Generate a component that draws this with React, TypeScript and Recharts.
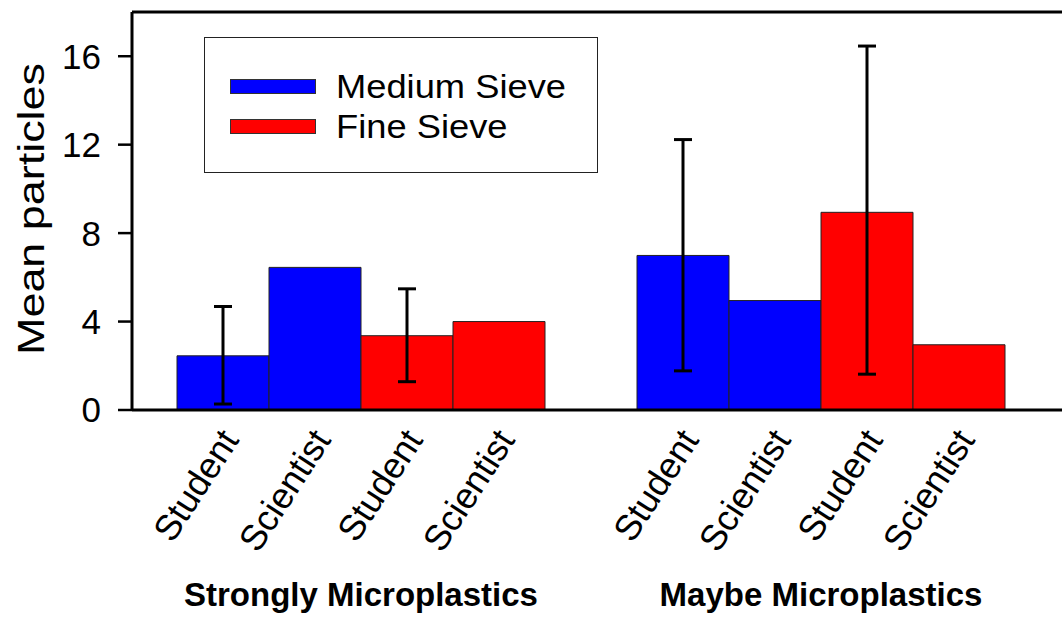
import React from 'react';
import { BarChart, Bar, XAxis, YAxis, ErrorBar, Legend, ReferenceLine } from 'recharts';

// slots along the x axis, one empty slot between the two groups
const tickLabels = ['Student', 'Scientist', 'Student', 'Scientist', '', 'Student', 'Scientist', 'Student', 'Scientist'];
const mediumSieve = [2.45, 6.45, null, null, null, 6.99, 4.95, null, null];
const fineSieve = [null, null, 3.36, 4.0, null, null, null, 8.94, 2.95];
// [minus, plus]
const mediumErr = [[2.18, 2.23], null, null, null, null, [5.22, 5.24], null, null, null];
const fineErr = [null, null, [2.08, 2.12], null, null, null, null, [7.32, 7.52], null];
const groupNames = ['Strongly Microplastics', 'Maybe Microplastics'];
// group centres in slot-index units (between the 2nd and 3rd slot of each group)
const groupCenters = [1.5, 6.5];
const yTicks = [0, 4, 8, 12, 16];

const series = [
  { key: 'medium', name: 'Medium Sieve', color: '#0000FF' },
  { key: 'fine', name: 'Fine Sieve', color: '#FF0000' },
];

const data = tickLabels.map((label, i) => ({
  slot: `s${i}`,
  label,
  medium: mediumSieve[i],
  fine: fineSieve[i],
  mediumErr: mediumErr[i],
  fineErr: fineErr[i],
}));

const FONT = '"Liberation Sans", Arial, sans-serif';

const SlotTick = (props: any) => {
  const { x, y, payload } = props;
  const label = tickLabels[payload.index];
  if (!label) return null;
  return (
    <text
      transform={`translate(${x + 17},${y + 22}) rotate(-57)`}
      textAnchor="end"
      fontSize={36}
      fontFamily={FONT}
      fill="#000"
    >
      {label}
    </text>
  );
};

const GroupTick = (props: any) => {
  const { x, y, payload } = props;
  const idx = groupCenters.indexOf(payload.value);
  if (idx < 0) return null;
  return (
    <text x={x} y={y} dy={28} textAnchor="middle" fontSize={33} fontWeight="bold" fontFamily={FONT} fill="#000">
      {groupNames[idx]}
    </text>
  );
};

const YLabel = (props: any) => {
  const { viewBox } = props;
  const cy = viewBox.y + viewBox.height / 2;
  const bx = 44;
  return (
    <text
      transform={`translate(${bx},${cy - 2}) rotate(-90)`}
      textAnchor="middle"
      fontSize={37}
      fontFamily={FONT}
      fill="#000"
      textLength={292}
      lengthAdjust="spacingAndGlyphs"
    >
      Mean particles
    </text>
  );
};

const LegendBox = () => (
  <div
    style={{
      position: 'relative',
      width: 394,
      height: 136,
      border: '1.5px solid #222',
      boxSizing: 'border-box',
      background: '#fff',
      fontFamily: FONT,
    }}
  >
    {series.map((s, i) => (
      <div
        key={s.key}
        style={{
          position: 'absolute',
          left: 25,
          top: 28 + i * 40,
          height: 40,
          display: 'flex',
          alignItems: 'center',
        }}
      >
        <div style={{ width: 86, height: 15, background: s.color, border: '1px solid #333', boxSizing: 'border-box' }} />
        <span
          style={{
            marginLeft: 20,
            fontSize: 33,
            lineHeight: 1,
            color: '#000',
            whiteSpace: 'nowrap',
            display: 'inline-block',
            transform: 'scaleX(1.1)',
            transformOrigin: 'left center',
          }}
        >
          {s.name}
        </span>
      </div>
    ))}
  </div>
);

export default function App() {
  return (
    <div style={{ position: 'absolute', left: 0, top: 0, width: 1062, height: 617, background: '#fff' }}>
      <style>{'body{margin:0}'}</style>
      <BarChart
        width={1062}
        height={617}
        data={data}
        margin={{ top: 12, right: 0, left: 0, bottom: 0 }}
        barCategoryGap={0}
        barGap={0}
      >
        <XAxis
          dataKey="slot"
          type="category"
          height={160}
          padding={{ left: 45, right: 57 }}
          tickLine={false}
          axisLine={{ stroke: '#000', strokeWidth: 3 }}
          tick={<SlotTick />}
          interval={0}
        />
        <XAxis
          xAxisId="group"
          type="number"
          domain={[0, 8]}
          allowDataOverflow
          ticks={groupCenters}
          height={47}
          padding={{ left: 91, right: 103 }}
          tickLine={false}
          axisLine={false}
          tick={<GroupTick />}
        />
        <YAxis
          type="number"
          domain={[0, 18]}
          allowDataOverflow
          ticks={yTicks}
          width={132}
          tickSize={14}
          tickMargin={17}
          tickLine={{ stroke: '#000', strokeWidth: 2.5 }}
          axisLine={{ stroke: '#000', strokeWidth: 3 }}
          tick={{ fontSize: 35, fill: '#000', fontFamily: FONT }}
          label={<YLabel />}
        />
        <ReferenceLine y={18} stroke="#000" strokeWidth={3} ifOverflow="visible" />
        <Legend
          layout="horizontal"
          verticalAlign="middle"
          align="center"
          content={() => <LegendBox />}
          wrapperStyle={{ left: 204, top: 37, width: 394, height: 136 }}
        />
        {series.map((s) => (
          <Bar
            key={s.key}
            dataKey={s.key}
            name={s.name}
            stackId="sieve"
            fill={s.color}
            stroke="#222"
            strokeWidth={1}
            isAnimationActive={false}
          >
            <ErrorBar dataKey={`${s.key}Err`} width={9} stroke="#000" strokeWidth={3} direction="y" />
          </Bar>
        ))}
      </BarChart>
    </div>
  );
}
